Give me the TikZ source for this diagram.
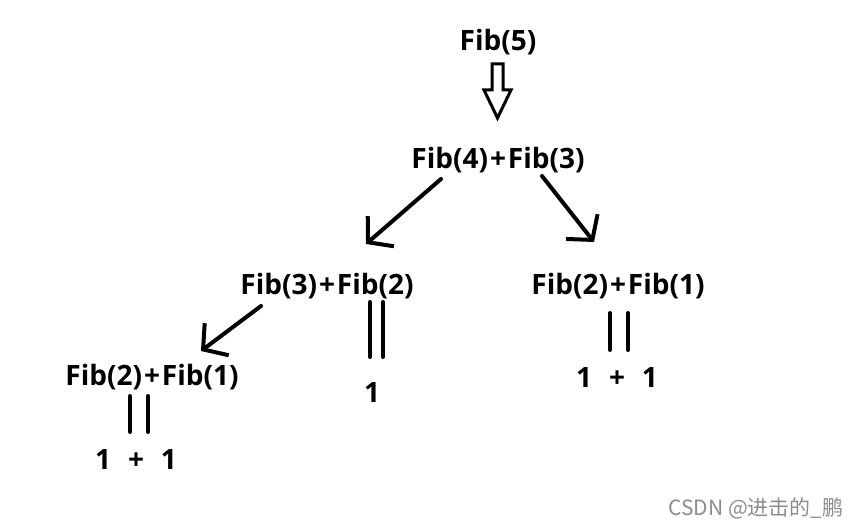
\documentclass[tikz,border=0pt]{standalone}
\usepackage{fontspec}
\setmainfont{Open Sans}
\newfontfamily\cjkfont{Noto Sans CJK SC}
\usetikzlibrary{arrows.meta}
\newcommand{\pl}{\hspace{2pt}+\hspace{2pt}}
\tikzset{
  fib/.style={font=\fontsize{28}{31}\selectfont\bfseries, inner sep=0pt},
  arr/.style={line width=4pt, line cap=round, -{Straight Barb[length=17pt, width=40pt, line width=4pt]}},
  bar/.style={line width=4pt, line cap=round}
}
\begin{document}
\begin{tikzpicture}[x=1pt, y=-1pt]
        \useasboundingbox (0,0) rectangle (863,527);
        % Draw the top call
        \node[fib] (f5) at (498, 42) {Fib(5)};
        % Hollow arrow down
        \draw[line width=3pt, line join=miter] (492, 64) -- (503, 64) -- (503, 90) -- (511, 90)
            -- (497.5, 118) -- (484, 90) -- (492, 90) -- cycle;
        % Label the levels
        \node[fib] (f43) at (498, 160) {Fib(4)\pl Fib(3)};
        \node[fib] (f32) at (327, 286) {Fib(3)\pl Fib(2)};
        \node[fib] (f21r) at (618, 286) {Fib(2)\pl Fib(1)};
        \node[fib] (f21l) at (152, 377) {Fib(2)\pl Fib(1)};
        % Label the results
        \node[fib] (one) at (372, 393) {1};
        \node[fib] (sumr) at (617, 378) {1\hspace{17pt}+\hspace{17pt}1};
        \node[fib] (suml) at (136, 460) {1\hspace{17pt}+\hspace{17pt}1};
        % Ends of the arrows
        \coordinate (a1) at (441, 179);
        \coordinate (b1) at (366, 244);
        \coordinate (a2) at (542, 176);
        \coordinate (b2) at (594, 242);
        \coordinate (a3) at (261, 306);
        \coordinate (b3) at (201, 351);
        % Draw the arrows
        \draw[arr] (a1) -- (b1);
        \draw[arr] (a2) -- (b2);
        \draw[arr] (a3) -- (b3);
        % Draw the double bars
        \draw[bar] (370, 302) -- (370, 357);
        \draw[bar] (383, 302) -- (383, 357);
        \draw[bar] (610, 313) -- (610, 350);
        \draw[bar] (628, 313) -- (628, 350);
        \draw[bar] (130, 396) -- (130, 432);
        \draw[bar] (148, 396) -- (148, 432);
        % Watermark
        \node[font=\cjkfont\fontsize{21}{23}\selectfont, text=black!45, inner sep=0pt] (mark) at (756, 508) {CSDN @进击的\_鹏};
\end{tikzpicture}
\end{document}
